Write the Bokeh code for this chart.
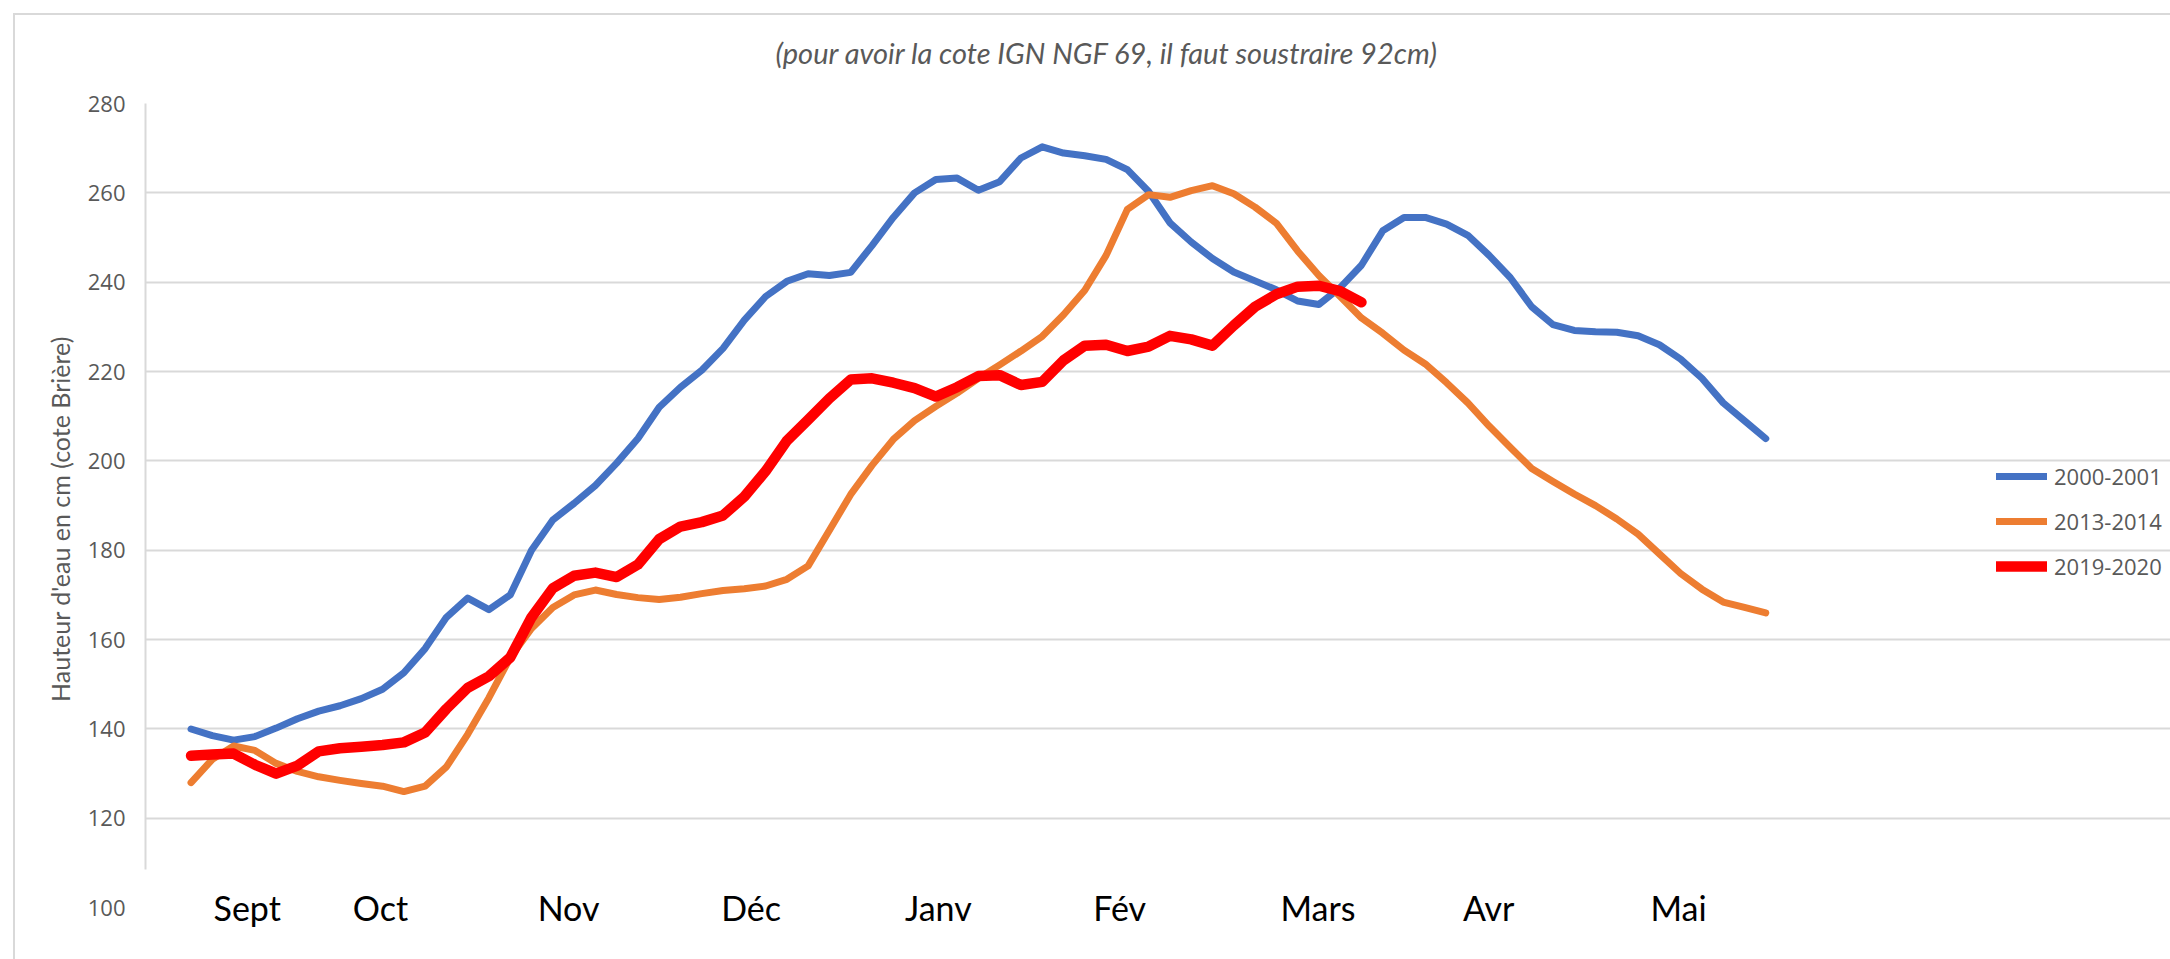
from bokeh.plotting import figure
from bokeh.models import (Range1d, FixedTicker, Legend, LegendItem, LabelSet,
                          ColumnDataSource, LinearAxis, InlineStyleSheet)
from bokeh.core.properties import value
from bokeh.embed import file_html
from bokeh.resources import INLINE

# x positions: weeks since the start of September (half-week steps)
semaines = [i * 0.5 for i in range(75)]

mois = ["Sept", "Oct", "Nov", "Déc", "Janv", "Fév", "Mars", "Avr", "Mai"]
mois_pos = [1.32, 4.45, 8.87, 13.16, 17.56, 21.82, 26.48, 30.49, 34.95]

y_ticks = [100, 120, 140, 160, 180, 200, 220, 240, 260, 280]
grid_ticks = [120, 140, 160, 180, 200, 220, 240, 260, 280]

serie_2000_2001 = [
    140, 138.5, 137.5, 138.3, 140.2, 142.3, 144, 145.2, 146.8, 148.9,
    152.6, 158, 165, 169.3, 166.7, 170, 180, 186.8, 190.5, 194.5,
    199.5, 205, 212, 216.5, 220.3, 225.2, 231.5, 236.8, 240.2, 241.9,
    241.5, 242.2, 248.2, 254.5, 260, 263, 263.3, 260.6, 262.5, 267.8,
    270.3, 268.9, 268.3, 267.5, 265.2, 260.3, 253.3, 249, 245.3, 242.3,
    240.3, 238.3, 235.8, 235, 238.8, 243.8, 251.5, 254.5, 254.5, 253,
    250.5, 246, 241, 234.5, 230.5, 229.2, 228.9, 228.8, 228, 226,
    222.8, 218.5, 213, 209, 205]

serie_2013_2014 = [
    128, 133.2, 136.2, 135.2, 132.3, 130.5, 129.3, 128.5, 127.8, 127.2,
    126, 127.2, 131.5, 138.8, 147, 156, 162.5, 167.2, 170, 171.1,
    170.1, 169.4, 169, 169.5, 170.3, 171, 171.4, 172, 173.5, 176.5,
    184.5, 192.5, 199, 204.8, 209, 212.2, 215.2, 218.5, 221.5, 224.6,
    227.9, 232.7, 238.2, 246, 256.3, 259.6, 259, 260.5, 261.6, 259.8,
    256.8, 253.2, 247, 241.5, 236.8, 232, 228.6, 224.8, 221.7, 217.5,
    213, 207.8, 203, 198.3, 195.4, 192.6, 190, 187, 183.6, 179.2,
    174.8, 171.3, 168.4, 167.2, 166]

serie_2019_2020 = [
    134, 134.3, 134.5, 132, 130, 131.8, 135, 135.7, 136, 136.4,
    137, 139.2, 144.5, 149.2, 151.8, 156, 165, 171.5, 174.3, 175,
    174, 176.8, 182.5, 185.3, 186.3, 187.8, 192, 197.7, 204.5, 209.2,
    214, 218.2, 218.5, 217.5, 216.3, 214.4, 216.5, 219, 219.2, 217,
    217.7, 222.5, 225.8, 226, 224.6, 225.6, 228, 227.2, 225.8, 230.3,
    234.5, 237.3, 239, 239.2, 238, 235.5]

GREY = "#595959"
GRID = "#d9d9d9"

X_START, X_DATA_END, X_END = -1.07, 41.13, 46.51

border_css = InlineStyleSheet(css="""
:host::before {
  content: "";
  position: absolute;
  left: 13px; top: 13px; right: 0px; bottom: 0px;
  border-top: 2.5px solid #d9d9d9;
  border-left: 2.5px solid #d9d9d9;
  pointer-events: none;
  z-index: 5;
}
""")

p = figure(width=2170, height=959, output_backend="svg", toolbar_location=None,
           x_range=Range1d(X_START, X_END), y_range=Range1d(94, 280),
           x_axis_location=None,
           min_border_left=145, min_border_right=0,
           min_border_top=103, min_border_bottom=25,
           stylesheets=[border_css])
p.background_fill_color = "white"
p.border_fill_color = "white"
p.outline_line_color = None

# Title
p.title.text = "(pour avoir la cote IGN NGF 69, il faut soustraire 92cm)"
p.title.align = "left"
p.title.vertical_align = "top"
p.title.offset = 630
p.title.standoff = 64
p.title.text_font = "Lato"
p.title.text_font_style = "italic"
p.title.text_font_size = "29px"
p.title.text_color = GREY

# Axis line (inner axis, stops above the month row)
ya = p.yaxis[0]
ya.ticker = FixedTicker(ticks=[])
ya.bounds = (108.5, 280)
ya.axis_line_color = GRID
ya.axis_line_width = 2
ya.major_tick_line_color = None
ya.minor_tick_line_color = None
ya.major_tick_out = 0
ya.major_tick_in = 0
ya.minor_tick_out = 0
ya.major_label_standoff = 0
ya.axis_label = None

# Tick labels + axis title (outer axis, no line)
ya2 = LinearAxis(ticker=FixedTicker(ticks=y_ticks))
ya2.axis_line_color = None
ya2.major_tick_line_color = None
ya2.minor_tick_line_color = None
ya2.major_tick_out = 0
ya2.major_tick_in = 0
ya2.major_label_standoff = 20
ya2.major_label_text_font = "Open Sans"
ya2.major_label_text_font_size = "22px"
ya2.major_label_text_color = GREY
ya2.axis_label = "Hauteur d'eau en cm (cote Brière)"
ya2.axis_label_text_font = "Lato"
ya2.axis_label_text_font_style = "normal"
ya2.axis_label_text_font_size = "25px"
ya2.axis_label_text_color = GREY
ya2.axis_label_standoff = 10
p.add_layout(ya2, "left")

p.ygrid.ticker = FixedTicker(ticks=grid_ticks)
p.ygrid.bounds = (X_START, X_DATA_END)
p.ygrid.grid_line_color = GRID
p.ygrid.grid_line_width = 2
p.xgrid.grid_line_color = None

# Series
r1 = p.line(semaines, serie_2000_2001, line_color="#4472C4", line_width=7,
            line_cap="round", line_join="round")
r2 = p.line(semaines, serie_2013_2014, line_color="#ED7D31", line_width=7,
            line_cap="round", line_join="round")
r3 = p.line(semaines[:len(serie_2019_2020)], serie_2019_2020, line_color="#FF0000",
            line_width=10.5, line_cap="round", line_join="round")

# Month labels
src = ColumnDataSource(dict(x=mois_pos, text=mois))
labels = LabelSet(x="x", y=100, text="text", source=src, text_align="center",
                  text_baseline="middle", text_font=value("Lato"),
                  text_font_size="34px", text_color="black")
p.add_layout(labels)

legend = Legend(items=[LegendItem(label="2000-2001", renderers=[r1]),
                       LegendItem(label="2013-2014", renderers=[r2]),
                       LegendItem(label="2019-2020", renderers=[r3])],
                location=(1851, 353), orientation="vertical")
legend.border_line_color = None
legend.background_fill_alpha = 0
legend.padding = 0
legend.margin = 0
legend.glyph_width = 51
legend.glyph_height = 24
legend.label_height = 24
legend.spacing = 15
legend.label_standoff = 7
legend.label_text_font = "Open Sans"
legend.label_text_font_size = "22px"
legend.label_text_color = GREY
p.add_layout(legend, "center")

open("out.html", "w").write(file_html(p, INLINE))
